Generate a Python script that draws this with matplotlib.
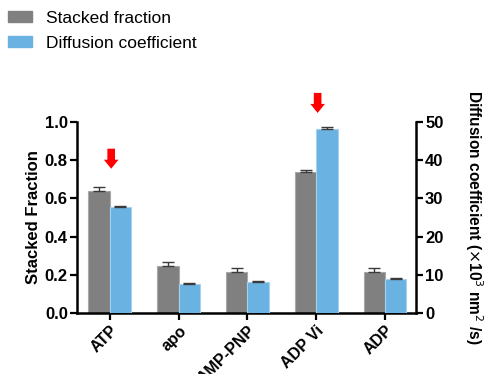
import matplotlib.pyplot as plt
import numpy as np
from matplotlib.patches import Patch

plt.rcParams['font.family'] = ['Liberation Sans', 'DejaVu Sans']

# data
categories = ['ATP', 'apo', 'AMP-PNP', 'ADP Vi', 'ADP']
stacked = [0.64, 0.246, 0.215, 0.737, 0.213]
stacked_err = [0.019, 0.021, 0.019, 0.012, 0.021]
diffusion = [27.8, 7.7, 8.2, 48.1, 8.9]
diffusion_err = [0.1, 0.15, 0.15, 0.45, 0.2]
highlight = ['ATP', 'ADP Vi']

gray = '#808080'
blue = '#6ab2e2'
w = 0.31

fig = plt.figure(figsize=(4.86, 3.74), dpi=100)
ax = fig.add_axes([0.158, 0.163, 0.698, 0.511])
ax2 = ax.twinx()

x = np.arange(len(categories))
ekw = dict(ecolor='#3a3a3a', elinewidth=1.0, capsize=4.5, capthick=1.0)
ax.bar(x - w / 2, stacked, width=w, color=gray, edgecolor='#a8a8a8', linewidth=0.8,
       yerr=[[0] * len(x), stacked_err], error_kw=ekw)
ax2.bar(x + w / 2, diffusion, width=w, color=blue, edgecolor='#a6d2f0', linewidth=0.8,
        yerr=[[0] * len(x), diffusion_err], error_kw=ekw)

ax.set_xlim(-0.48, 4.45)
ax.set_ylim(0, 1.0)
ax2.set_ylim(0, 50)
ax.set_yticks([0, 0.2, 0.4, 0.6, 0.8, 1.0])
ax.set_yticklabels(['0.0', '0.2', '0.4', '0.6', '0.8', '1.0'])
ax2.set_yticks([0, 10, 20, 30, 40, 50])
ax.set_xticks(x)
ax.set_xticklabels(categories, rotation=45, ha='right', rotation_mode='anchor')

for a in (ax, ax2):
    a.spines['top'].set_visible(False)
    for s in ('left', 'right', 'bottom'):
        a.spines[s].set_linewidth(1.8)
    a.tick_params(width=1.6, length=5, labelsize=12, pad=1.5)
    for lbl in a.get_yticklabels() + a.get_xticklabels():
        lbl.set_fontweight('bold')
ax2.spines['left'].set_visible(False)
ax.spines['right'].set_visible(False)
ax2.spines['bottom'].set_visible(False)
ax.tick_params(axis='x', labelsize=11.5, pad=2)

ax.set_ylabel('Stacked Fraction', fontsize=12, fontweight='bold', labelpad=3)
ax2.set_ylabel(r'Diffusion coefficient ($\times$10$^3$ nm$^2$ /s)', fontsize=11.2,
               fontweight='bold', rotation=-90, labelpad=30)

# red arrows above highlighted categories (tip heights on the left axis scale)
arrow_tips = [0.755, 1.047]
for name, tip in zip(highlight, arrow_tips):
    i = categories.index(name)
    ax.annotate('', xy=(i + 0.02, tip), xytext=(i + 0.02, tip + 0.105),
                arrowprops=dict(arrowstyle='simple,head_width=1.05,head_length=0.65,tail_width=0.55',
                                color='#ff0000', lw=0, shrinkA=0, shrinkB=0),
                annotation_clip=False)

handles = [Patch(color=gray, label='Stacked fraction'), Patch(color=blue, label='Diffusion coefficient')]
fig.legend(handles=handles, loc='upper left', bbox_to_anchor=(8 / 486, 1 - 11 / 374), frameon=False,
           fontsize=12.5, handlelength=1.4, handleheight=0.6, handletextpad=0.8,
           labelspacing=0.55, borderpad=0, borderaxespad=0)

fig.savefig('out.png', dpi=100)
